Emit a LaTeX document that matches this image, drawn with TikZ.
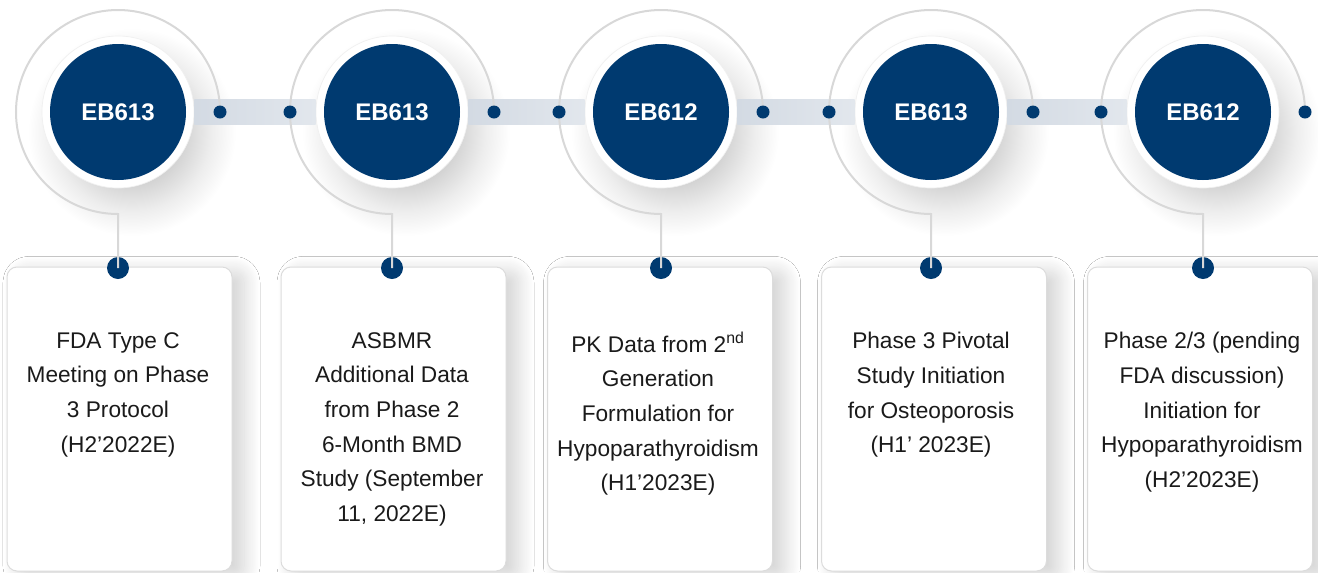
\documentclass[tikz,border=0pt]{standalone}
\usepackage{fontspec}
\setmainfont{Liberation Sans}
\usetikzlibrary{shadows.blur,calc}

\definecolor{navy}{HTML}{003A70}
\definecolor{ringgray}{HTML}{D8D8D8}
\definecolor{boxline}{HTML}{DCDCDC}
\definecolor{bandL}{HTML}{D3DAE3}
\definecolor{bandR}{HTML}{E2E7ED}
\definecolor{txtcol}{HTML}{1A1A1A}
\colorlet{shA}{black!22}
\colorlet{shB}{black!18}
\colorlet{shC}{black!7}

% soft round shadow cast by the white halos (path edge sits at 25bp)
\pgfdeclareradialshading{halosh}{\pgfpoint{0bp}{0bp}}%
  {color(0bp)=(shA); color(12bp)=(shB); color(19bp)=(shC);
   color(25bp)=(white); color(50bp)=(white)}

\tikzset{
  hub/.style={circle, fill=navy, minimum size=102pt, inner sep=0pt,
    text=white, font=\fontsize{18}{18}\selectfont\bfseries},
  halo/.style={circle, fill=white, draw=gray!12, line width=0.5pt,
    minimum size=114pt, inner sep=0pt},
  haloshadow/.style={shading=halosh},
  card/.style={draw=boxline, line width=0.75pt, fill=white,
    rounded corners=7.5pt, minimum width=168.75pt, minimum height=228pt,
    inner sep=0pt,
    blur shadow={shadow xshift=9pt, shadow yshift=-4pt,
      shadow blur radius=12pt, shadow opacity=18, shadow blur steps=25}},
  pin/.style={circle, fill=navy, inner sep=0pt, minimum size=16.5pt},
  knot/.style={circle, fill=navy, inner sep=0pt, minimum size=9.75pt},
  ring/.style={draw=ringgray, line width=1.5pt},
  band/.style={left color=bandL, right color=bandR},
  caption/.style={align=center, anchor=north, inner sep=0pt, text=txtcol,
    font=\fontsize{17}{26}\selectfont,
    execute at begin node=\rule{0pt}{14pt}},
}

\begin{document}
\begin{tikzpicture}[x=0.75pt, y=-0.75pt]
  \useasboundingbox[fill=white] (0,0) rectangle (1318,572);

  % milestone centres
  \coordinate (o1) at (118,112);
  \coordinate (o2) at (392,112);
  \coordinate (o3) at (661,112);
  \coordinate (o4) at (931,112);
  \coordinate (o5) at (1203,112);

  % shadows under the halos
  \foreach \i in {1,...,5}{
    \shade[haloshadow] ($(o\i)+(14,20)$) circle[radius=104];
  }

  % event cards
  \node[card] (b1) at (119.5,419) {};
  \node[card] (b2) at (393.5,419) {};
  \node[card] (b3) at (660,419) {};
  \node[card] (b4) at (934,419) {};
  \node[card] (b5) at (1200,419) {};

  % white halos behind the milestone discs
  \foreach \i in {1,...,5}{
    \node[halo] (h\i) at (o\i) {};
  }

  % bands joining neighbouring halos
  \shade[band] ([yshift=9.4pt]h1.east) rectangle ([yshift=-9.4pt]h2.west);
  \shade[band] ([yshift=9.4pt]h2.east) rectangle ([yshift=-9.4pt]h3.west);
  \shade[band] ([yshift=9.4pt]h3.east) rectangle ([yshift=-9.4pt]h4.west);
  \shade[band] ([yshift=9.4pt]h4.east) rectangle ([yshift=-9.4pt]h5.west);

  % pins on top of the cards
  \node[pin] (p1) at (118,268) {};
  \node[pin] (p2) at (392,268) {};
  \node[pin] (p3) at (661,268) {};
  \node[pin] (p4) at (931,268) {};
  \node[pin] (p5) at (1203,268) {};

  % outer rings: from the right, over the top, down to the pin
  \foreach \i in {1,...,5}{
    \draw[ring] ([xshift=76.5pt]h\i.center)
      arc[start angle=0, end angle=-270, radius=102] -- (p\i.center);
  }

  % small dots where the rings meet the bands
  \node[knot] (r1) at (220,112) {};
  \node[knot] (l2) at (290,112) {};
  \node[knot] (r2) at (494,112) {};
  \node[knot] (l3) at (559,112) {};
  \node[knot] (r3) at (763,112) {};
  \node[knot] (l4) at (829,112) {};
  \node[knot] (r4) at (1033,112) {};
  \node[knot] (l5) at (1101,112) {};
  \node[knot] (r5) at (1305,112) {};

  % milestone discs
  \node[hub] (c1) at (o1) {EB613};
  \node[hub] (c2) at (o2) {EB613};
  \node[hub] (c3) at (o3) {EB612};
  \node[hub] (c4) at (o4) {EB613};
  \node[hub] (c5) at (o5) {EB612};

  % card texts
  \node[caption] (t1) at (118,332) {FDA Type C\\Meeting on Phase\\3 Protocol\\(H2’2022E)};
  \node[caption] (t2) at (392,332) {ASBMR\\Additional Data\\from Phase 2\\6-Month BMD\\Study (September\\11, 2022E)};
  \node[caption] (t3) at (658,332) {PK Data from 2\textsuperscript{nd}\\Generation\\Formulation for\\Hypoparathyroidism\\(H1’2023E)};
  \node[caption] (t4) at (931,332) {Phase 3 Pivotal\\Study Initiation\\for Osteoporosis\\(H1’ 2023E)};
  \node[caption] (t5) at (1202,332) {Phase 2/3 (pending\\FDA discussion)\\Initiation for\\Hypoparathyroidism\\(H2’2023E)};
\end{tikzpicture}
\end{document}
